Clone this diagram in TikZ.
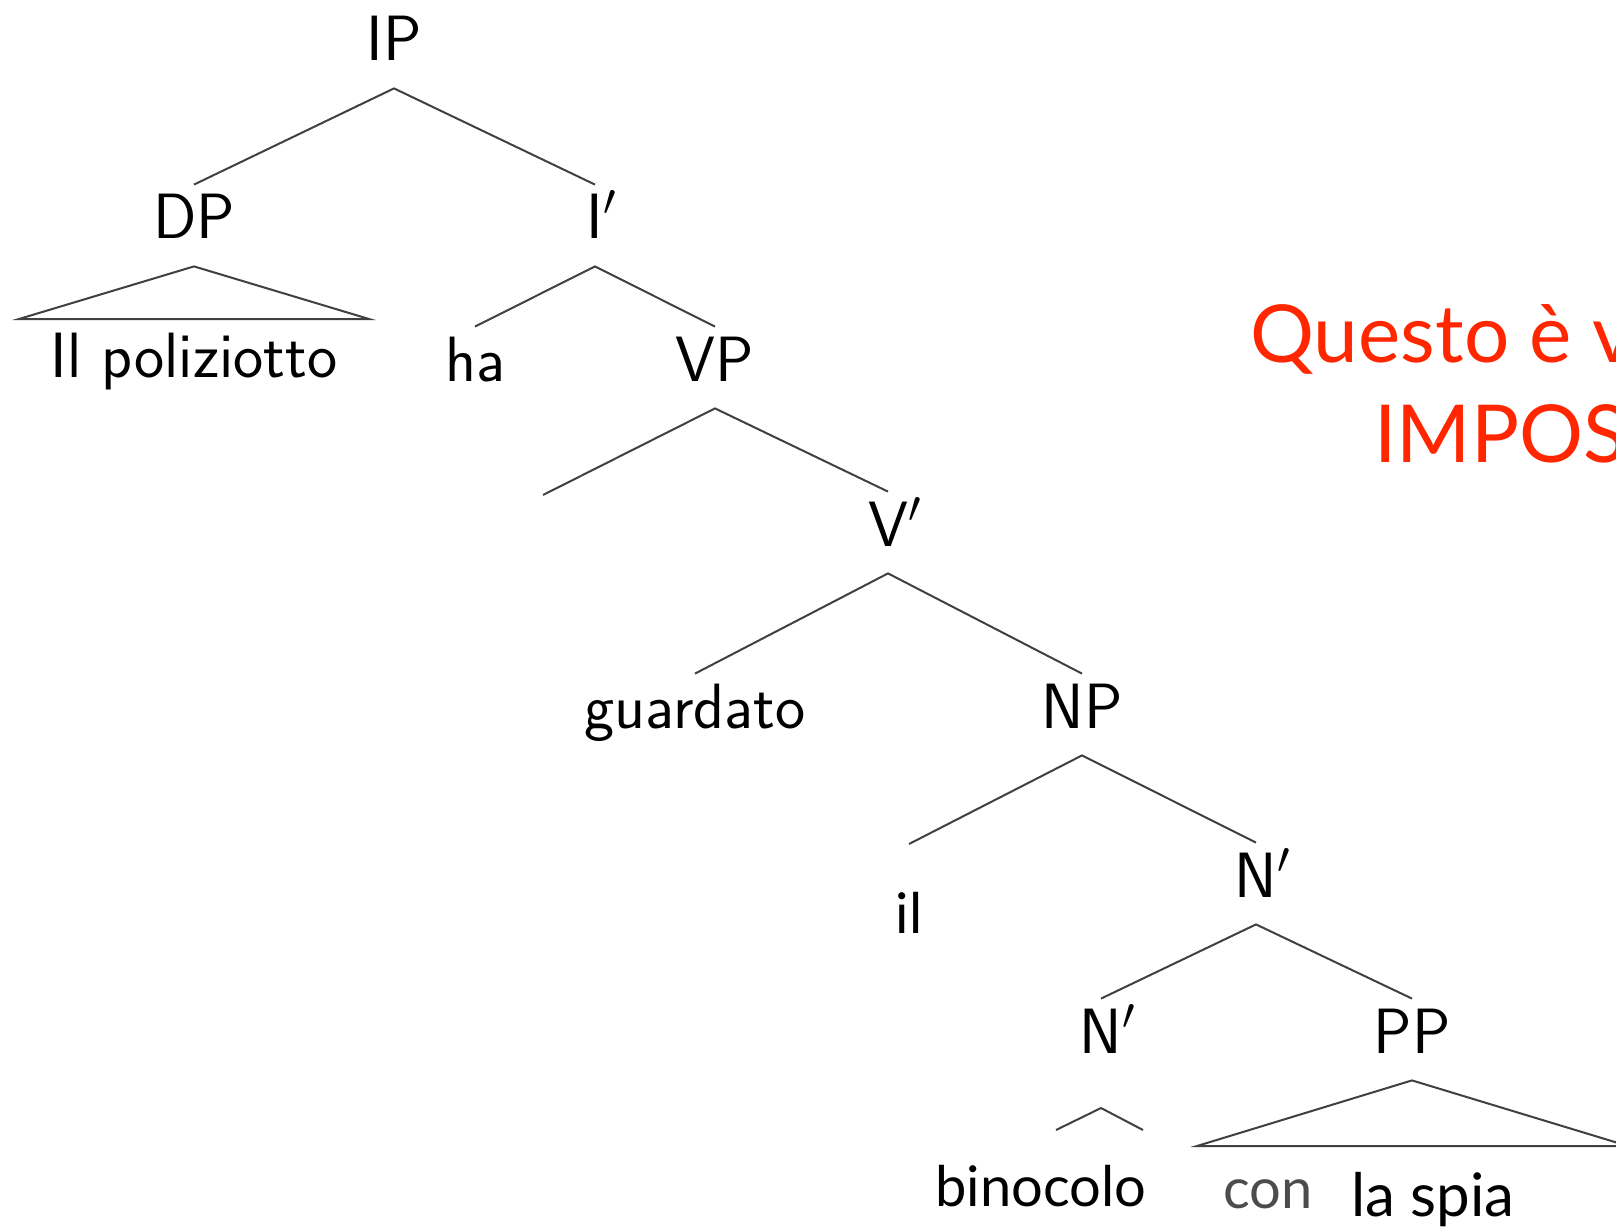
\RequirePackage{fix-cm}
\documentclass[tikz,border=0pt]{standalone}
\usepackage{fontspec}
\newfontfamily\gill{Lato}
\definecolor{keyred}{RGB}{255,38,0}
\begin{document}
\begin{tikzpicture}[x=0.5pt,y=-0.5pt,
  cat/.style={font=\sffamily\fontsize{32}{38}\selectfont, inner sep=0pt, text height=27pt, text depth=13.5pt, anchor=base},
  leaf/.style={font=\sffamily\fontsize{32}{38}\selectfont, inner sep=0pt, anchor=base},
  gillleaf/.style={font=\gill\fontsize{28}{34}\selectfont, inner sep=0pt, anchor=base},
  redtext/.style={font=\gill\fontsize{40}{48}\selectfont, text=keyred, inner sep=0pt, anchor=base west},
  branch/.style={draw=black!75, line width=1pt, line join=miter}]
\useasboundingbox (0,0) rectangle (1616,1230);
\clip (0,0) rectangle (1616,1230);
% categories
\node[cat] (IP) at (394,61) {IP};
\node[cat] (DP) at (194,239) {DP};
\node[cat] (I1) at (595,239) {I\rlap{$'$}};
\node[leaf] (pol) at (194,377) {Il poliziotto};
\node[cat] (ha) at (475,381) {ha};
\node[cat] (VP) at (715,381) {VP};
\coordinate (VPl) at (543,495);
\node[cat] (V1) at (888,546) {V\rlap{$'$}};
\node[cat] (guard) at (695,728) {guardato};
\node[cat] (NP) at (1082,728) {NP};
\coordinate (NPl) at (909,844);
\node[gillleaf] (il) at (909,933) {il};
\node[cat] (N1) at (1256,897) {N\rlap{$'$}};
\node[cat] (N2) at (1101,1053) {N\rlap{$'$}};
\node[cat] (PP) at (1412,1053) {PP};
\coordinate (N2a) at (1101,1108);
\coordinate (N2l) at (1056,1130);
\coordinate (N2r) at (1143,1130);
\coordinate (DPl) at (19,319);
\coordinate (DPr) at (369,319);
\coordinate (PPl) at (1197,1146);
\coordinate (PPr) at (1628,1146);
\node[gillleaf] (bin) at (1041,1206) {binocolo};
\node[gillleaf, text=black!70] (con) at (1268,1208) {con};
\node[gillleaf, font=\gill\fontsize{30}{36}\selectfont] (spia) at (1433,1216) {la spia};
% red remark
\node[redtext] (q1) at (1250,362) {Questo è v};
\node[redtext] (q2) at (1374,462) {IMPOS};
% branches
\draw[branch] (DP.north) -- (IP.south) -- (I1.north);
\draw[branch] (DP.south) -- (DPl) -- (DPr) -- cycle;
\draw[branch] (ha.north) -- (I1.south) -- (VP.north);
\draw[branch] (VPl) -- (VP.south) -- (V1.north);
\draw[branch] (guard.north) -- (V1.south) -- (NP.north);
\draw[branch] (NPl) -- (NP.south) -- (N1.north);
\draw[branch] (N2.north) -- (N1.south) -- (PP.north);
\draw[branch] (N2l) -- (N2a) -- (N2r);
\draw[branch] (PP.south) -- (PPl) -- (PPr) -- cycle;
\end{tikzpicture}
\end{document}
